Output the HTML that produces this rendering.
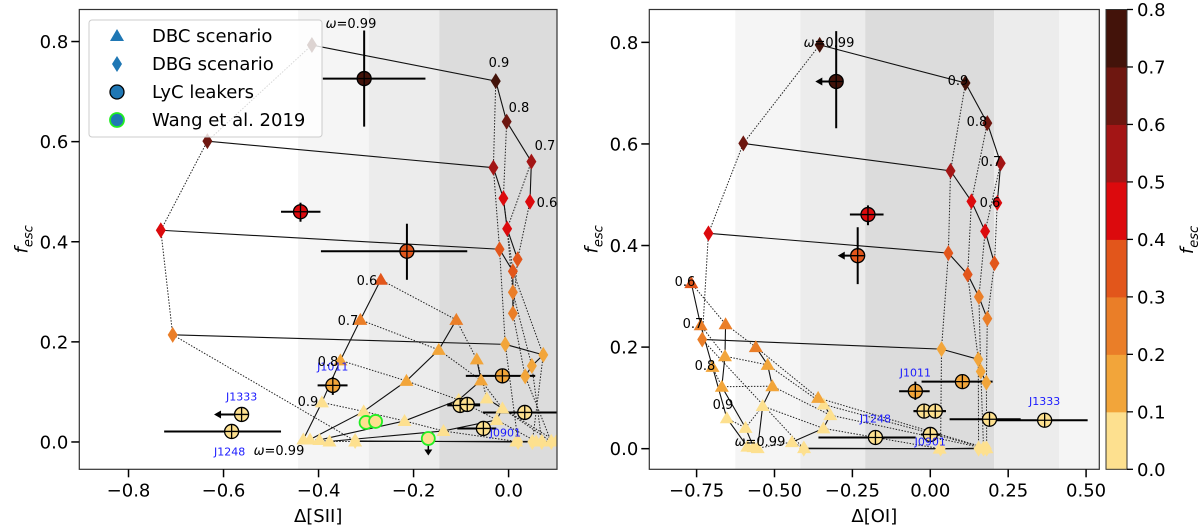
<!DOCTYPE html>
<html><head><meta charset="utf-8"><style>
body{margin:0;background:#fff;}
svg{display:block;font-family:"DejaVu Sans","Liberation Sans",sans-serif;}
</style></head><body>
<svg id="fig" width="1200" height="532" viewBox="0 0 1200 532" xmlns="http://www.w3.org/2000/svg"></svg>
<script>
// ---------- data: left panel (Δ[SII]) ----------
const omegaLabels = ["0.99","0.9","0.8","0.7","0.6"];
const sDBG_x = [[-0.414,-0.027,-0.004,0.048,0.045],[-0.634,-0.032,-0.011,-0.003,0.019],[-0.732,-0.019,0.009,0.009,0.009],[-0.707,-0.007,0.073,0.049,0.035],[-0.323,0.02,0.05,0.07,0.09]];
const sDBG_y = [[0.793,0.721,0.640,0.560,0.480],[0.601,0.548,0.487,0.426,0.365],[0.423,0.385,0.341,0.299,0.257],[0.214,0.195,0.174,0.152,0.131],[0.002,0.0,0.0,0.0,0.0]];
const sDBC_x = [[-0.432,-0.393,-0.354,-0.312,-0.269],[-0.418,-0.305,-0.215,-0.147,-0.110],[-0.398,-0.219,-0.105,-0.058,-0.067],[-0.377,-0.137,-0.025,-0.013,-0.046],[-0.323,0.016,0.058,0.089,0.10]];
const sDBC_y = [[0.005,0.079,0.163,0.244,0.324],[0.005,0.061,0.122,0.184,0.244],[0.004,0.042,0.084,0.123,0.165],[0.001,0.022,0.044,0.067,0.087],[0.001,0.001,0.001,0.001,0.001]];
const sLyC_x = [-0.304,-0.438,-0.214,-0.013,-0.370,-0.102,-0.087,0.034,-0.053,-0.562,-0.583];
const sLyC_y = [0.726,0.460,0.381,0.132,0.113,0.073,0.075,0.059,0.027,0.055,0.021];
const sLyC_xlo = [-0.391,-0.479,-0.395,-0.090,-0.402,-0.129,-0.129,-0.054,-0.108,null,-0.725];
const sLyC_xhi = [-0.175,-0.396,-0.087,0.056,-0.339,-0.060,-0.060,0.110,-0.026,null,-0.479];
const sLyC_ylo = [0.630,0.440,0.324,null,0.094,null,null,null,null,null,null];
const sLyC_yhi = [0.822,0.478,0.436,null,0.130,null,null,null,null,null,null];
const sLyC_arrow = [null,null,null,null,null,null,null,null,null,-0.62,null];
const sWang_x = [-0.300,-0.280,-0.169];
const sWang_y = [0.039,0.041,0.007];
// ---------- data: right panel (Δ[OI]) ----------
const oDBG_x = [[-0.355,0.113,0.183,0.226,0.215],[-0.600,0.065,0.132,0.176,0.206],[-0.712,0.058,0.120,0.156,0.183],[-0.732,0.036,0.154,0.162,0.180],[-0.406,0.033,0.155,0.171,0.181]];
const oDBG_y = [[0.795,0.720,0.641,0.562,0.484],[0.601,0.547,0.487,0.428,0.365],[0.424,0.385,0.343,0.299,0.256],[0.215,0.196,0.176,0.152,0.130],[0.0,0.0,0.0,0.0,0.0]];
const oDBC_x = [[-0.587,-0.653,-0.699,-0.737,-0.767],[-0.567,-0.593,-0.669,-0.659,-0.657],[-0.554,-0.538,-0.507,-0.522,-0.560],[-0.444,-0.343,-0.321,-0.342,-0.360],[-0.405,0.030,0.172,0.178,0.180]];
const oDBC_y = [[0.004,0.060,0.161,0.243,0.326],[0.003,0.041,0.122,0.182,0.245],[0.001,0.084,0.123,0.165,0.200],[0.013,0.040,0.066,0.087,0.100],[0.001,0.0,0.001,0.001,0.001]];
const oLyC_x = [-0.302,-0.200,-0.233,0.103,-0.048,-0.020,0.016,0.190,0.000,0.367,-0.176];
const oLyC_y = [0.723,0.461,0.380,0.132,0.113,0.074,0.074,0.058,0.028,0.056,0.022];
const oLyC_xlo = [null,-0.258,null,-0.028,-0.100,-0.054,-0.054,0.062,-0.030,0.206,-0.359];
const oLyC_xhi = [null,-0.150,null,0.200,-0.002,0.050,0.050,0.290,0.033,0.505,-0.047];
const oLyC_ylo = [0.631,0.440,0.324,null,0.096,null,null,null,null,null,null];
const oLyC_yhi = [0.822,0.479,0.436,null,0.132,null,null,null,null,null,null];
const oLyC_arrow = [-0.369,null,-0.297,null,null,null,null,null,null,null,null];
const lycNames = ["","","","","J1011","","","","J0901","J1333","J1248"];
const cbTicks = ["0.0","0.1","0.2","0.3","0.4","0.5","0.6","0.7","0.8"];
const cbColors = ["#fde08f","#f2a53a","#ea7e28","#e2561b","#dc0a0d","#a31515","#6e1710","#43130a"];

const NS="http://www.w3.org/2000/svg";
const svg=document.getElementById('fig');
function mk(tag,attrs,parent){const e=document.createElementNS(NS,tag);for(const k in attrs)e.setAttribute(k,attrs[k]);(parent||svg).appendChild(e);return e;}
function col(f){let i=Math.floor(f*10);if(i<0)i=0;if(i>7)i=7;return cbColors[i];}

function panel(P){
  const g=mk('g',{});
  
  
  const X=v=>P.x0+(v-P.xmin)/(P.xmax-P.xmin)*(P.x1-P.x0);
  const Y=v=>P.y1-(v-P.ymin)/(P.ymax-P.ymin)*(P.y1-P.y0);
  // bands
  P.bands.forEach(b=>{const a=Math.max(X(b[0]),P.x0),c=Math.min(X(b[1]),P.x1);
    const r=mk('rect',{x:a,y:P.y0,width:c-a,height:P.y1-P.y0,fill:b[2]},g);
    });
  const clip='clip'+P.id;
  const cp=mk('clipPath',{id:clip},g);mk('rect',{x:P.x0,y:P.y0,width:P.x1-P.x0,height:P.y1-P.y0},cp);
  const pg=mk('g',{'clip-path':`url(#${clip})`},g);
  // model grids
  [[P.dbgx,P.dbgy,'dbg'],[P.dbcx,P.dbcy,'dbc']].forEach(([gx,gy,nm])=>{
    for(let j=0;j<5;j++){ // iso-omega dotted
      let d='';for(let i=0;i<gx.length;i++)d+=(i?'L':'M')+X(gx[i][j])+' '+Y(gy[i][j]);
      const p=mk('path',{d,fill:'none',stroke:'#222','stroke-width':1,'stroke-dasharray':'1.5,1.5'},pg);
      }
    for(let i=0;i<gx.length;i++){let d='';for(let j=0;j<5;j++)d+=(j?'L':'M')+X(gx[i][j])+' '+Y(gy[i][j]);
      const p=mk('path',{d,fill:'none',stroke:'#111','stroke-width':1.1},pg);
      }
  });
  // leaker error bars (behind markers)
  P.lx.forEach((v,i)=>{const cx=X(v),cy=Y(P.ly[i]);
    if(P.xlo[i]!=null){const l=mk('line',{x1:X(P.xlo[i]),x2:X(P.xhi[i]),y1:cy,y2:cy,stroke:'#000','stroke-width':2},pg);
      }
    if(P.ylo[i]!=null){const l=mk('line',{x1:cx,x2:cx,y1:Y(P.ylo[i]),y2:Y(P.yhi[i]),stroke:'#000','stroke-width':2},pg);
      }
    if(P.arr[i]!=null){const ax=X(P.arr[i]);const l=mk('line',{x1:cx,x2:ax+4,y1:cy,y2:cy,stroke:'#000','stroke-width':2},pg);
      
      mk('path',{d:`M${ax} ${cy}L${ax+7} ${cy-4}L${ax+7} ${cy+4}Z`,fill:'#000'},pg);}
  });
  // markers
  P.dbgx.forEach((row,i)=>row.forEach((v,j)=>{const x=X(v),y=Y(P.dbgy[i][j]);
    const m=mk('path',{d:`M${x} ${y-8}L${x+5} ${y}L${x} ${y+8}L${x-5} ${y}Z`,fill:col(P.dbgy[i][j])},pg);
    }));
  P.dbcx.forEach((row,i)=>row.forEach((v,j)=>{const x=X(v),y=Y(P.dbcy[i][j]);
    const m=mk('path',{d:`M${x} ${y-7}L${x+7} ${y+5}L${x-7} ${y+5}Z`,fill:col(P.dbcy[i][j])},pg);
    }));
  if(P.wx)P.wx.forEach((v,i)=>{const x=X(v),y=Y(P.wy[i]);
    if(i==2){mk('line',{x1:x,x2:x,y1:y,y2:y+12,stroke:'#000','stroke-width':1.5},pg);mk('path',{d:`M${x-4} ${y+11}L${x+4} ${y+11}L${x} ${y+17}Z`,fill:'#000'},pg);}
    const c=mk('circle',{cx:x,cy:y,r:6.5,fill:col(P.wy[i]),stroke:'#22ee22','stroke-width':1.8},pg);
    });
  P.lx.forEach((v,i)=>{const cx=X(v),cy=Y(P.ly[i]);
    const c=mk('circle',{cx,cy,r:7,fill:col(P.ly[i]),stroke:'#000','stroke-width':1.3},pg);
    
    mk('path',{d:`M${cx-7} ${cy}H${cx+7}M${cx} ${cy-7}V${cy+7}`,stroke:'#000','stroke-width':1.3},pg);
    if(lycNames[i]){const t=mk('text',{x:cx+P.nameOff[i][0],y:cy+P.nameOff[i][1],fill:'#1a1aff','font-size':11,'text-anchor':'middle'},pg);t.textContent=lycNames[i];
      }
  });
  // omega labels
  P.labels.forEach(L=>{const t=mk('text',{x:L[1],y:L[2],'font-size':13,'text-anchor':'middle',fill:'#000'},g);
    if(L[0].startsWith('w')){t.innerHTML='<tspan font-style="italic">ω</tspan>='+L[0].slice(1);}else t.textContent=L[0];
    });
  // frame
  const fr=mk('rect',{x:P.x0,y:P.y0,width:P.x1-P.x0,height:P.y1-P.y0,fill:'none',stroke:'#333','stroke-width':1.2},g);
  
  P.xt.forEach(v=>{const x=X(v);mk('line',{x1:x,x2:x,y1:P.y1,y2:P.y1+8,stroke:'#000','stroke-width':1.5},g);
    const t=mk('text',{x,y:P.y1+27,'font-size':18,'text-anchor':'middle'},g);t.textContent=(v<0?'−':'')+Math.abs(v).toFixed(P.xdec);
    });
  P.yt.forEach(v=>{const y=Y(v);mk('line',{x1:P.x0-8,x2:P.x0,y1:y,y2:y,stroke:'#000','stroke-width':1.5},g);
    const t=mk('text',{x:P.x0-11,y:y+6.5,'font-size':18,'text-anchor':'end'},g);t.textContent=v.toFixed(1);
    });
  const xl=mk('text',{x:(P.x0+P.x1)/2,y:522,'font-size':18,'text-anchor':'middle'},g);xl.textContent=P.xlabel;
  
  const yl=mk('text',{x:0,y:0,'font-size':18,transform:`translate(${P.x0-52},${(P.y0+P.y1)/2}) rotate(-90)`,'text-anchor':'middle'},g);
  yl.innerHTML='<tspan font-style="italic">f</tspan><tspan font-style="italic" font-size="13" dy="5">esc</tspan>';
  
}

panel({id:'L',name:'sii-panel',x0:79.3,x1:557,y0:9.5,y1:469.3,xmin:-0.9036,xmax:0.1019,ymin:-0.0546,ymax:0.864,
  bands:[[-0.443,-0.294,'#f5f5f5'],[-0.294,-0.146,'#ececec'],[-0.146,0.2,'#dcdcdc']],
  dbgx:sDBG_x,dbgy:sDBG_y,dbcx:sDBC_x,dbcy:sDBC_y,lx:sLyC_x,ly:sLyC_y,xlo:sLyC_xlo,xhi:sLyC_xhi,ylo:sLyC_ylo,yhi:sLyC_yhi,arr:sLyC_arrow,
  wx:sWang_x,wy:sWang_y,
  nameOff:[[0,0],[0,0],[0,0],[0,0],[0,-15],[0,0],[0,0],[0,0],[22,8],[0,-14],[-2,24]],
  labels:[['w0.99',351,28],['0.9',499,67],['0.8',519,112],['0.7',545,150],['0.6',547,207],['0.6',367,285],['0.7',348,325],['0.8',328,366],['0.9',308,406],['w0.99',279,455]],
  xt:[-0.8,-0.6,-0.4,-0.2,0.0],xdec:1,yt:[0,0.2,0.4,0.6,0.8],xlabel:'Δ[SII]'});
panel({id:'R',name:'oi-panel',x0:649.3,x1:1099.3,y0:9.5,y1:469.3,xmin:-0.9018,xmax:0.5424,ymin:-0.0406,ymax:0.8647,
  bands:[[-0.626,-0.417,'#f5f5f5'],[-0.417,-0.209,'#ececec'],[-0.209,0.205,'#dcdcdc'],[0.205,0.414,'#ececec'],[0.414,0.63,'#f5f5f5']],
  dbgx:oDBG_x,dbgy:oDBG_y,dbcx:oDBC_x,dbcy:oDBC_y,lx:oLyC_x,ly:oLyC_y,xlo:oLyC_xlo,xhi:oLyC_xhi,ylo:oLyC_ylo,yhi:oLyC_yhi,arr:oLyC_arrow,
  nameOff:[[0,0],[0,0],[0,0],[0,0],[0,-15],[0,0],[0,0],[0,0],[0,11],[0,-15],[0,-15]],
  labels:[['w0.99',829,47],['0.9',958,85],['0.8',977,126],['0.7',991,166],['0.6',990,207],['0.6',685,286],['0.7',693,328],['0.8',705,370],['0.9',723,409],['w0.99',760,446]],
  xt:[-0.75,-0.5,-0.25,0,0.25,0.5],xdec:2,yt:[0,0.2,0.4,0.6,0.8],xlabel:'Δ[OI]'});

// legend
const lg=mk('g',{});

mk('rect',{x:89,y:20,width:233,height:117,rx:3,fill:'#fff','fill-opacity':0.82,stroke:'#ccc','stroke-width':1},lg);
const legNames=['DBC scenario','DBG scenario','LyC leakers','Wang et al. 2019'];
legNames.forEach((n,i)=>{const y=36+i*28;const x=117;
  if(i==0)mk('path',{d:`M${x} ${y-7}L${x+7} ${y+5}L${x-7} ${y+5}Z`,fill:'#1f77b4'},lg);
  if(i==1)mk('path',{d:`M${x} ${y-8}L${x+5} ${y}L${x} ${y+8}L${x-5} ${y}Z`,fill:'#1f77b4'},lg);
  if(i==2)mk('circle',{cx:x,cy:y,r:7,fill:'#1f77b4',stroke:'#000','stroke-width':1.3},lg);
  if(i==3)mk('circle',{cx:x,cy:y,r:7,fill:'#1f77b4',stroke:'#22ee22','stroke-width':1.8},lg);
  const t=mk('text',{x:152,y:y+6,'font-size':18},lg);t.textContent=n;
  });

// colorbar
const cb=mk('g',{});

const cbx=1106,cbw=21,cby0=9.5,cby1=469.3,h=(cby1-cby0)/cbColors.length;
cbColors.forEach((c,i)=>{const r=mk('rect',{x:cbx,y:cby1-(i+1)*h,width:cbw,height:h+0.5,fill:c},cb);
  });
mk('rect',{x:cbx,y:cby0,width:cbw,height:cby1-cby0,fill:'none',stroke:'#333','stroke-width':1},cb);
cbTicks.forEach((s,i)=>{const y=cby1-i*(cby1-cby0)/8;mk('line',{x1:cbx+cbw,x2:cbx+cbw+6,y1:y,y2:y,stroke:'#000','stroke-width':1.3},cb);
  const t=mk('text',{x:cbx+cbw+10,y:y+6.5,'font-size':18},cb);t.textContent=s;
  });
const cl=mk('text',{x:0,y:0,'font-size':18,transform:'translate(1193,240) rotate(-90)','text-anchor':'middle'},cb);
cl.innerHTML='<tspan font-style="italic">f</tspan><tspan font-style="italic" font-size="13" dy="5">esc</tspan>';

</script>
</body></html>
